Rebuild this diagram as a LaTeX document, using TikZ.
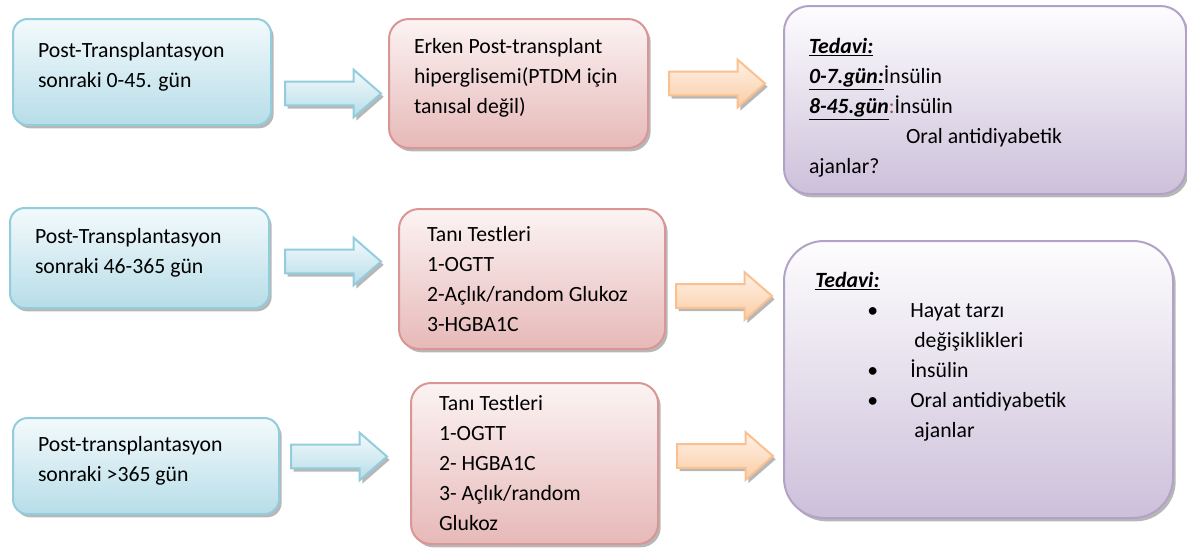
\documentclass[tikz,border=0pt]{standalone}
\usepackage{fontspec}
\setmainfont{Carlito}
\usetikzlibrary{shapes.arrows,shadows}

\definecolor{bluedraw}{HTML}{93CDDD}
\definecolor{bluetop}{HTML}{F3FAFC}
\definecolor{bluebottom}{HTML}{B7DDE8}
\definecolor{reddraw}{HTML}{D99694}
\definecolor{redtop}{HTML}{FCF3F3}
\definecolor{redbottom}{HTML}{E6B9B8}
\definecolor{purpledraw}{HTML}{B3A2C7}
\definecolor{purpletop}{HTML}{FEFDFE}
\definecolor{purplebottom}{HTML}{CCC0DA}
\definecolor{orangedraw}{HTML}{FAC090}
\definecolor{orangetop}{HTML}{FEF1E7}
\definecolor{orangebottom}{HTML}{FBCDA5}
\definecolor{colonred}{HTML}{A0524F}

\tikzset{
    box/.style={line width=1.5pt, anchor=north west, align=flush left,
        inner xsep=18.75pt, inner ysep=0pt,
        font=\fontsize{16.3pt}{22.5pt}\selectfont,
        drop shadow={shadow xshift=2pt, shadow yshift=-2.5pt, opacity=.4, fill=black!70}},
    textup/.style={execute at end node={\rule[-11pt]{0pt}{0pt}}},
    textdown/.style={execute at begin node={\rule{0pt}{23pt}}},
    timebox/.style={box, textup, draw=bluedraw, top color=bluetop, bottom color=bluebottom, rounded corners=11pt},
    findbox/.style={box, draw=reddraw, top color=redtop, bottom color=redbottom, rounded corners=15pt},
    treatbox/.style={box, draw=purpledraw, top color=purpletop, bottom color=purplebottom},
    blockarr/.style={single arrow, anchor=tail, line width=1.5pt, inner xsep=0pt, inner ysep=8.1pt,
        minimum height=72pt, minimum width=34pt,
        single arrow head extend=9pt, single arrow tip angle=82,
        drop shadow={shadow xshift=2pt, shadow yshift=-2.5pt, opacity=.4, fill=black!70}},
    bluearr/.style={blockarr, draw=bluedraw, top color=bluetop, bottom color=bluebottom},
    orangearr/.style={blockarr, draw=orangedraw, top color=orangetop, bottom color=orangebottom},
    txt/.style={anchor=north west, align=flush left, inner sep=0pt,
        font=\fontsize{16.3pt}{22.5pt}\selectfont}
}

\begin{document}
\begin{tikzpicture}[x=0.75pt,y=-0.75pt]
    \useasboundingbox (0,0) rectangle (1187,547);
    %% time after transplantation
    \node[timebox, minimum width=193.5pt, minimum height=79.5pt, text width=156pt] (post1) at (12,18)
        {Post-Transplantasyon\\sonraki 0-45. gün};
    \node[timebox, minimum width=194.25pt, minimum height=75pt, text width=156.75pt] (post2) at (9,207)
        {Post-Transplantasyon\\sonraki 46-365 gün};
    \node[timebox, minimum width=199.5pt, minimum height=72pt, text width=162pt] (post3) at (12,417)
        {Post-transplantasyon\\sonraki >365 gün};
    %% diagnosis
    \node[findbox, textup, minimum width=194.25pt, minimum height=96.75pt, text width=156.75pt] (erken) at (388,18)
        {Erken Post-transplant\\hiperglisemi(PTDM için\\tanısal değil)};
    \node[findbox, minimum width=195pt, minimum height=105pt, text width=157.5pt, inner xsep=21pt] (tani1) at (398,208)
        {Tanı Testleri\\1-OGTT\\2-Açlık/random Glukoz\\3-HGBA1C};
    \node[findbox, minimum width=185.25pt, minimum height=120.75pt, text width=143.25pt, inner xsep=21pt] (tani2) at (410,382)
        {Tanı Testleri\\1-OGTT\\2- HGBA1C\\3- Açlık/random\\Glukoz};
    %% treatment
    \node[treatbox, textdown, rounded corners=19pt, minimum width=301.5pt, minimum height=141pt, text width=264pt] (tedavi1) at (783,5)
        {\underline{\textbf{\textit{Tedavi:}}}\\
         \underline{\textbf{\textit{0-7.gün:}}}İnsülin\\
         \underline{\textbf{\textit{8-45.gün}}}{\color{colonred}:}İnsülin\\
         \hspace*{72.75pt}Oral antidiyabetik\\
         ajanlar?};
    \node[treatbox, rounded corners=30pt, minimum width=291.75pt, minimum height=207.75pt] (tedavi2) at (783,240) {};
    \node[txt, text width=240pt] (tedavi2txt) at (815,272)
        {\underline{\textbf{\textit{Tedavi:}}}\\
         \hspace*{39pt}\makebox[32.25pt][l]{\textbullet}Hayat tarzı\\
         \hspace*{74.25pt}değişiklikleri\\
         \hspace*{39pt}\makebox[32.25pt][l]{\textbullet}İnsülin\\
         \hspace*{39pt}\makebox[32.25pt][l]{\textbullet}Oral antidiyabetik\\
         \hspace*{74.25pt}ajanlar};
    %% block arrows
    \node[bluearr] (arr1) at (284,93.5) {};
    \node[bluearr] (arr2) at (284,261.5) {};
    \node[bluearr] (arr3) at (290,456.5) {};
    \node[orangearr] (arr4) at (668,83.5) {};
    \node[orangearr] (arr5) at (675,296) {};
    \node[orangearr] (arr6) at (676,456) {};
\end{tikzpicture}
\end{document}
